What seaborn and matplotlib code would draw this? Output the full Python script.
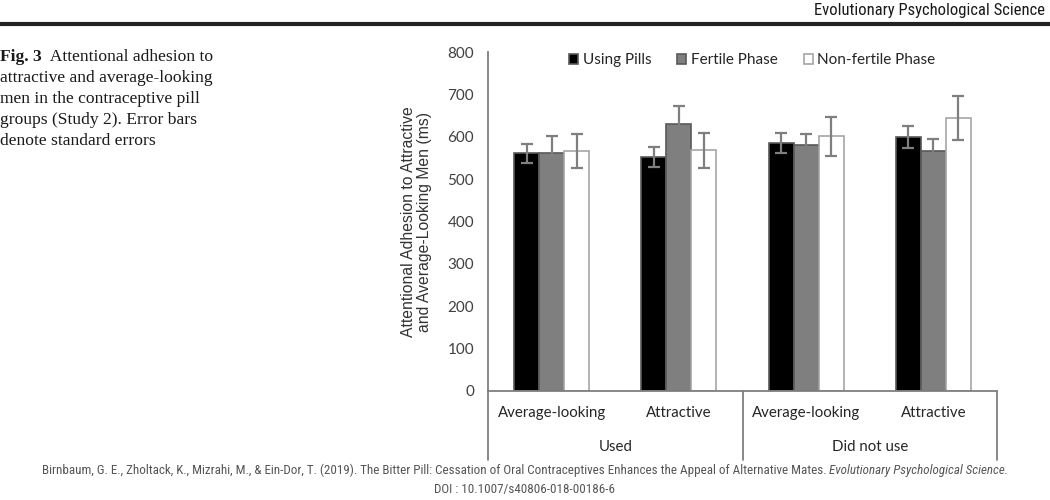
import numpy as np
import pandas as pd
import seaborn as sns
import matplotlib.pyplot as plt
from matplotlib import font_manager
from matplotlib.patches import Patch

# values
slots = ["Used | Average-looking", "Used | Attractive",
         "Did not use | Average-looking", "Did not use | Attractive"]
target_labels = ["Average-looking", "Attractive", "Average-looking", "Attractive"]
pill_groups = ["Used", "Did not use"]
conditions = ["Using Pills", "Fertile Phase", "Non-fertile Phase"]

using_pills = [561, 552, 585, 599]
fertile_phase = [561, 629, 580, 566]
nonfertile_phase = [566, 568, 601, 644]

using_pills_se = [22, 24, 23, 26]
fertile_phase_se = [40, 43, 27, 28]
nonfertile_phase_se = [40, 42, 46, 51]


def pick_font(names, default="DejaVu Sans"):
    for n in names:
        try:
            font_manager.findfont(n, fallback_to_default=False)
            return n
        except Exception:
            pass
    return default


narrow = pick_font(["Liberation Sans Narrow", "Roboto Condensed", "Liberation Sans"])
excel_font = pick_font(["Lato", "Open Sans"])
serif = pick_font(["Liberation Serif", "DejaVu Serif"])

df = pd.DataFrame({
    "slot": slots * 3,
    "condition": np.repeat(conditions, 4),
    "value": using_pills + fertile_phase + nonfertile_phase,
})
errs = [using_pills_se, fertile_phase_se, nonfertile_phase_se]

sns.set_style("white")
plt.rcParams["font.family"] = [excel_font, "DejaVu Sans"]

fig = plt.figure(figsize=(10.5, 5), dpi=100)
ax = fig.add_axes([0.4648, 0.218, 0.4848, 0.678])

fills = ["#000000", "#7f7f7f", "#ffffff"]
edges = ["#595959", "#595959", "#a6a6a6"]

sns.barplot(data=df, x="slot", y="value", hue="condition", order=slots,
            hue_order=conditions, palette=fills, width=0.59, gap=0,
            errorbar=None, legend=False, ax=ax)

bar_sets = list(ax.containers)
for i, cont in enumerate(bar_sets):
    xs = []
    for p in cont.patches:
        p.set_edgecolor(edges[i])
        p.set_linewidth(1.2)
        xs.append(p.get_x() + p.get_width() / 2)
    ax.errorbar(xs, [p.get_height() for p in cont.patches], yerr=errs[i],
                fmt="none", ecolor="#7f7f7f", elinewidth=1.6, capsize=4,
                capthick=1.6, zorder=5)

ax.set_ylim(0, 800)
ax.set_xlim(-0.5, 3.5)
ax.set_yticks(range(0, 801, 100))
ax.tick_params(axis="y", length=0, pad=10, labelsize=11, labelcolor="#404040")
ax.set_xticks([])
ax.set_xlabel("")
ax.set_ylabel("Attentional Adhesion to Attractive\nand Average-Looking Men (ms)",
              family=["Liberation Sans", "DejaVu Sans"], fontsize=11.3,
              color="#333333", labelpad=11, linespacing=1.1)
for s in ["top", "right"]:
    ax.spines[s].set_visible(False)
for s in ["left", "bottom"]:
    ax.spines[s].set_color("#7f7f7f")
    ax.spines[s].set_linewidth(1.3)

# multi-level category axis
xt = ax.get_xaxis_transform()
for x in [-0.5, 1.5, 3.5]:
    ax.plot([x, x], [0, -0.204], transform=xt, color="#7f7f7f", lw=1.3,
            clip_on=False)
for i, lab in enumerate(target_labels):
    ax.text(i, -0.065, lab, transform=xt, ha="center", va="center",
            fontsize=10.8, color="#262626")
for i, lab in enumerate(pill_groups):
    ax.text(0.5 + 2 * i, -0.165, lab, transform=xt, ha="center", va="center",
            fontsize=10.8, color="#262626")

handles = [Patch(facecolor=f, edgecolor=e, lw=1.2) for f, e in zip(fills, edges)]
ax.legend(handles, conditions, ncol=3, frameon=False, loc="center",
          bbox_to_anchor=(0.519, 0.976), fontsize=11, handlelength=0.6,
          handleheight=0.6, handletextpad=0.3, columnspacing=1.7,
          labelcolor="#262626")

# page furniture around the figure
fig.text(0.995, 0.98, "Evolutionary Psychological Science", ha="right",
         va="center", family=narrow, fontsize=12, color="#1a1a1a")
fig.add_artist(plt.Line2D([0, 1], [0.952, 0.952], color="#222222", lw=3))

renderer = fig.canvas.get_renderer()


def text_run(x, y, pieces, **kw):
    # place text pieces one after another on the same baseline
    for txt, extra in pieces:
        t = fig.text(x, y, txt, **kw, **extra)
        bb = t.get_window_extent(renderer)
        x = fig.transFigure.inverted().transform((bb.x1, bb.y0))[0]
    return x


caption = ["attractive and average-looking", "men in the contraceptive pill",
           "groups (Study 2). Error bars", "denote standard errors"]
cap_kw = dict(family=serif, fontsize=12.6, color="#1a1a1a", va="baseline")
text_run(0.0, 0.878, [("Fig. 3", {"weight": "bold"}),
                      ("  Attentional adhesion to", {})], **cap_kw)
for k, line in enumerate(caption):
    fig.text(0.0, 0.878 - (k + 1) * 0.042, line, **cap_kw)

cite_kw = dict(family=narrow, fontsize=9.4, color="#555555", va="baseline")
cite_main = ("Birnbaum, G. E., Zholtack, K., Mizrahi, M., & Ein-Dor, T. (2019). "
             "The Bitter Pill: Cessation of Oral Contraceptives Enhances the Appeal "
             "of Alternative Mates. ")
cite_journal = "Evolutionary Psychological Science."
probe = fig.text(0, 0, cite_main, **cite_kw)
probe2 = fig.text(0, 0, cite_journal, style="italic", **cite_kw)
w = (probe.get_window_extent(renderer).width + probe2.get_window_extent(renderer).width) / fig.bbox.width
probe.remove()
probe2.remove()
text_run(0.5 - w / 2, 0.052, [(cite_main, {}), (cite_journal, {"style": "italic"})],
         **cite_kw)
fig.text(0.5, 0.014, "DOI : 10.1007/s40806-018-00186-6", ha="center", **cite_kw)

fig.savefig("out.png", dpi=100)
